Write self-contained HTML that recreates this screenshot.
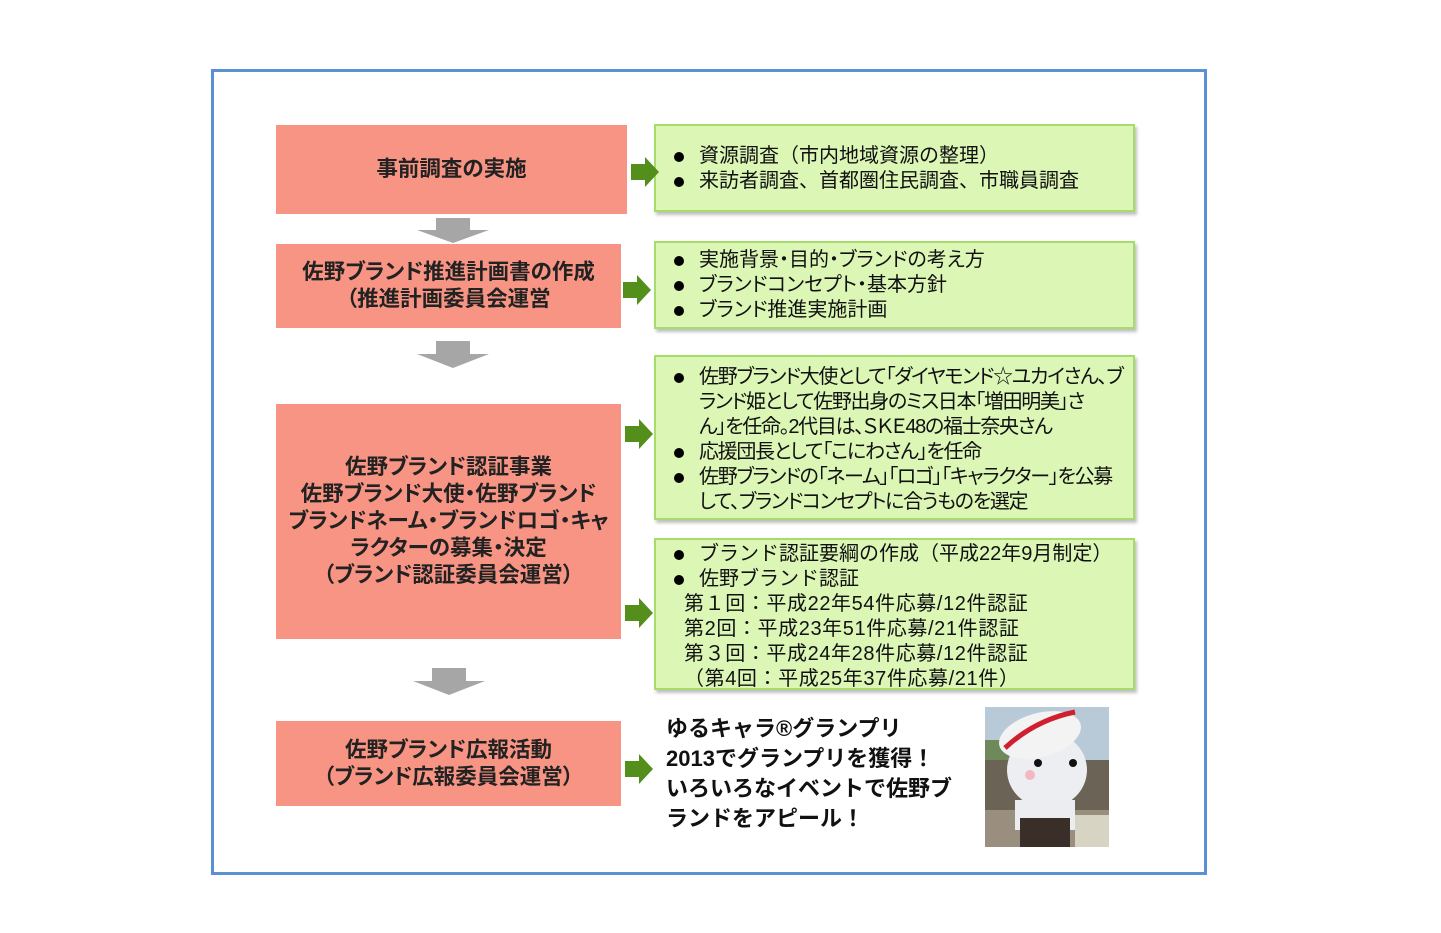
<!DOCTYPE html>
<html><head><meta charset="utf-8"><style>
body{margin:0;width:1441px;height:933px;background:#fff;position:relative;overflow:hidden;font-family:"Liberation Sans","Noto Sans CJK JP",sans-serif;}
.a{position:absolute;}
.p{font-feature-settings:"palt";}
.frame{left:211px;top:69px;width:990px;height:800px;border:3px solid #5b8fd6;}
.r{background:#f79483;color:#222;font-weight:bold;font-size:21.5px;display:flex;align-items:center;justify-content:center;text-align:center;line-height:27px;white-space:nowrap;font-feature-settings:"palt";}
.g{background:#dcf6b6;border:2px solid #a6dc6a;box-shadow:2px 3px 3px rgba(0,0,0,0.25);font-size:20px;color:#111;line-height:25px;box-sizing:border-box;padding-left:16px;white-space:nowrap;}
.b{position:relative;padding-left:27px;}
.b:before{content:"";position:absolute;left:2px;top:8px;width:10px;height:10px;border-radius:50%;background:#000;}
</style></head><body>
<div class="a frame"></div>
<div class="a r" style="left:276px;top:125px;width:351px;height:89px;">事前調査の実施</div>
<div class="a r" style="left:276px;top:244px;width:345px;height:84px;">佐野ブランド推進計画書の作成<br>（推進計画委員会運営</div>
<div class="a r" style="left:276px;top:404px;width:345px;height:235px;">佐野ブランド認証事業<br>佐野ブランド大使・佐野ブランド<br>ブランドネーム・ブランドロゴ・キャ<br>ラクターの募集・決定<br>（ブランド認証委員会運営）</div>
<div class="a r" style="left:276px;top:721px;width:345px;height:85px;">佐野ブランド広報活動<br>（ブランド広報委員会運営）</div>

<div class="a g" style="left:654px;top:124px;width:481px;height:88px;padding-top:18px;"><div class="b">資源調査（市内地域資源の整理）</div><div class="b">来訪者調査、首都圏住民調査、市職員調査</div></div>
<div class="a g p" style="left:654px;top:241px;width:481px;height:88px;padding-top:5px;"><div class="b">実施背景・目的・ブランドの考え方</div><div class="b">ブランドコンセプト・基本方針</div><div class="b">ブランド推進実施計画</div></div>
<div class="a g p" style="left:654px;top:355px;width:481px;height:165px;padding-top:8px;letter-spacing:-1.3px;"><div class="b">佐野ブランド大使として「ダイヤモンド☆ユカイさん、ブ<br>ランド姫として佐野出身のミス日本「増田明美」さ<br>ん」を任命。2代目は、ＳＫＥ48の福士奈央さん</div><div class="b">応援団長として「こにわさん」を任命</div><div class="b">佐野ブランドの「ネーム」「ロゴ」「キャラクター」を公募<br>して、ブランドコンセプトに合うものを選定</div></div>
<div class="a g" style="left:654px;top:538px;width:481px;height:152px;padding-top:2px;"><div class="b">ブランド認証要綱の作成（平成22年9月制定）</div><div class="b">佐野ブランド認証</div><div style="padding-left:12px;letter-spacing:0.6px;">第１回：平成22年54件応募/12件認証<br>第2回：平成23年51件応募/21件認証<br>第３回：平成24年28件応募/12件認証<br>（第4回：平成25年37件応募/21件）</div></div>

<div class="a" style="left:666px;top:714px;font-weight:bold;font-size:22px;line-height:30px;color:#111;width:300px;">ゆるキャラ®グランプリ<br>2013でグランプリを獲得！<br>いろいろなイベントで佐野ブ<br>ランドをアピール！</div>

<svg class="a" style="left:0;top:0" width="1441" height="933">
<g fill="#548e1b">
<polygon points="631,164 645,164 645,157 659,172 645,187 645,180 631,180"/>
<polygon points="623,282 637,282 637,275 651,290 637,305 637,298 623,298"/>
<polygon points="625,426 639,426 639,419 653,434 639,449 639,442 625,442"/>
<polygon points="625,605 639,605 639,598 653,613 639,628 639,621 625,621"/>
<polygon points="625,761 639,761 639,754 653,769 639,784 639,777 625,777"/>
</g>
<g fill="#a6a6a6">
<polygon points="436,218 470,218 470,230 489,230 453,243 417,230 436,230"/>
<polygon points="436,341 470,341 470,354 489,354 453,368 417,354 436,354"/>
<polygon points="432,668 466,668 466,681 485,681 449,695 413,681 432,681"/>
</g>
<defs><clipPath id="c"><rect x="985" y="707" width="124" height="140"/></clipPath></defs>
<g clip-path="url(#c)">
<rect x="985" y="707" width="124" height="140" fill="#b8c9d8"/>
<rect x="985" y="740" width="30" height="30" fill="#6f8a5a"/>
<rect x="985" y="760" width="124" height="87" fill="#6b6456"/>
<rect x="985" y="810" width="124" height="37" fill="#9a8f7e"/>
<ellipse cx="1047" cy="770" rx="40" ry="38" fill="#eceef2"/>
<ellipse cx="1040" cy="735" rx="42" ry="22" fill="#f3f3f3" transform="rotate(-15 1040 735)"/>
<path d="M1005,748 Q1035,720 1075,712" stroke="#d02030" stroke-width="5" fill="none"/>
<rect x="1015" y="800" width="60" height="30" fill="#ecedf0"/>
<rect x="1020" y="818" width="50" height="29" fill="#3a2e28"/>
<circle cx="1038" cy="763" r="4" fill="#111"/><circle cx="1073" cy="763" r="4" fill="#111"/>
<circle cx="1030" cy="775" r="5" fill="#f2b8c0"/>
<rect x="1075" y="815" width="34" height="32" fill="#d8d4c4"/>
</g>
</svg>
</body></html>
